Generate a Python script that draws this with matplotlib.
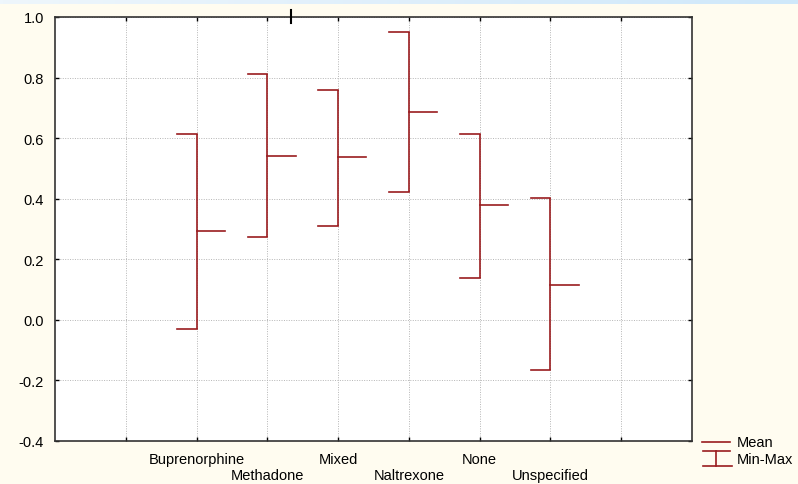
import matplotlib.pyplot as plt
import numpy as np
from matplotlib.lines import Line2D
from matplotlib.colors import LinearSegmentedColormap

categories = ["Buprenorphine", "Methadone", "Mixed", "Naltrexone", "None", "Unspecified"]
means = [0.293, 0.541, 0.538, 0.686, 0.379, 0.115]
mins = [-0.030, 0.274, 0.310, 0.423, 0.138, -0.164]
maxs = [0.614, 0.812, 0.759, 0.951, 0.614, 0.402]
yticks = [-0.4, -0.2, 0.0, 0.2, 0.4, 0.6, 0.8, 1.0]

red = '#9a1c1f'
bg = '#fffcf0'

plt.rcParams['font.family'] = ['Liberation Sans', 'DejaVu Sans']

fig = plt.figure(figsize=(7.98, 4.85), dpi=100, facecolor=bg)
W, H = 798, 485

# light blue band along the top edge
band = fig.add_axes([0, 1 - 5 / H, 1, 5 / H])
grad = np.linspace(0, 1, 256).reshape(1, -1)
cmap = LinearSegmentedColormap.from_list('b', ['#eef6fc', '#cfe8fa'])
band.imshow(grad, aspect='auto', cmap=cmap)
band.axis('off')

ax = fig.add_axes([55 / W, 1 - 442 / H, (692 - 55) / W, (442 - 18) / H])
ax.set_facecolor('white')

xs = np.arange(len(categories)) + 2
cap_w = 0.28
mean_w = 0.40
for x, lo, hi, m in zip(xs, mins, maxs, means):
    ax.plot([x, x], [lo, hi], color=red, lw=1.2, solid_capstyle='butt')
    ax.plot([x - cap_w, x], [hi, hi], color=red, lw=1.2)
    ax.plot([x - cap_w, x], [lo, lo], color=red, lw=1.2)
    ax.plot([x, x + mean_w], [m, m], color=red, lw=1.2)

ax.set_xlim(0, 9)
ax.set_ylim(-0.4, 1.0)
ax.set_yticks(yticks)
ax.set_yticklabels([f"{v:.1f}" for v in yticks], fontsize=10.5)

ax.set_xticks(range(1, 9))
ax.set_xticklabels([''] + categories + [''], fontsize=10.5)

ax.grid(True, color='#b5b5b5', lw=0.7, linestyle=(0, (1, 1.5)))
ax.tick_params(direction='in', length=3, width=1, top=True, right=True, pad=8)
# stagger the category labels on two rows
for i, t in enumerate(ax.xaxis.get_major_ticks()):
    if i in (2, 4, 6):
        t.set_pad(19.5)
for s in ax.spines.values():
    s.set_linewidth(1.2)
    s.set_color('#333333')

# stray tick mark on top edge
fig.add_artist(Line2D([291 / W, 291 / W], [1 - 11 / H, 1 - 24 / H], color='black', lw=1.5))

# legend
def fx(px):
    return px / W

def fy(py):
    return 1 - py / H

fig.add_artist(Line2D([fx(702), fx(730)], [fy(443), fy(443)], color=red, lw=1.2))
fig.add_artist(Line2D([fx(703), fx(730)], [fy(452), fy(452)], color=red, lw=1.2))
fig.add_artist(Line2D([fx(716), fx(716)], [fy(452), fy(467)], color=red, lw=1.2))
fig.add_artist(Line2D([fx(703), fx(732)], [fy(467), fy(467)], color=red, lw=1.2))
fig.text(fx(737), fy(443), 'Mean', fontsize=10.5, va='center', ha='left')
fig.text(fx(737), fy(460), 'Min-Max', fontsize=10.5, va='center', ha='left')

fig.savefig('out.png', dpi=100, facecolor=bg)
